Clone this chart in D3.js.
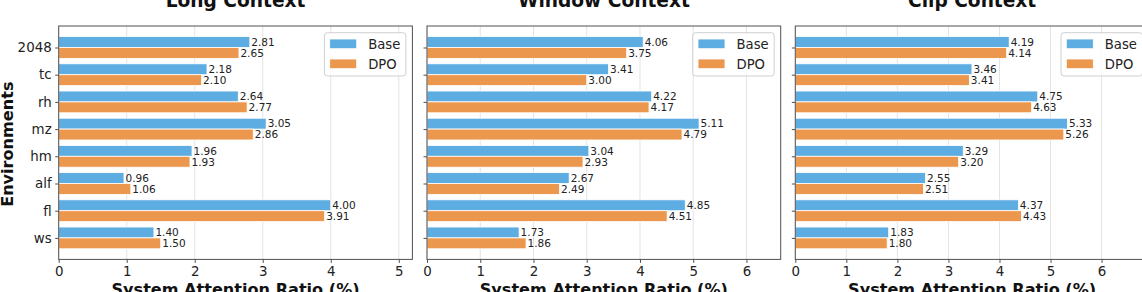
<!DOCTYPE html>
<html>
<head>
<meta charset="utf-8">
<script src="https://cdn.jsdelivr.net/npm/d3@7"></script>
<style>
  html, body { margin: 0; padding: 0; background: #fff; }
  svg { display: block; font-family: "DejaVu Sans", sans-serif; }
</style>
</head>
<body>
<svg id="chart" width="1142" height="292"></svg>
<script>
const categories = ["2048", "tc", "rh", "mz", "hm", "alf", "fl", "ws"];
const seriesNames = ["Base", "DPO"];
const panelTitles = ["Long Context", "Window Context", "Clip Context"];

const longBase   = [2.81, 2.18, 2.64, 3.05, 1.96, 0.96, 4.00, 1.40];
const longDPO    = [2.65, 2.10, 2.77, 2.86, 1.93, 1.06, 3.91, 1.50];
const windowBase = [4.06, 3.41, 4.22, 5.11, 3.04, 2.67, 4.85, 1.73];
const windowDPO  = [3.75, 3.00, 4.17, 4.79, 2.93, 2.49, 4.51, 1.86];
const clipBase   = [4.19, 3.46, 4.75, 5.33, 3.29, 2.55, 4.37, 1.83];
const clipDPO    = [4.14, 3.41, 4.63, 5.26, 3.20, 2.51, 4.43, 1.80];

const xLabel = "System Attention Ratio (%)";
const yLabel = "Environments";

const panels = [
  { title: panelTitles[0], series: [longBase, longDPO] },
  { title: panelTitles[1], series: [windowBase, windowDPO] },
  { title: panelTitles[2], series: [clipBase, clipDPO] }
];

const colors = ["#5DADE2", "#EB984E"];
const svg = d3.select("#chart");

const left0 = 58.7, panelW = 353.7, step = 368.3;
const plotTop = 26, plotBottom = 259.4;
const barH = 0.4;
const spineColor = "#505050";

const y = d3.scaleLinear().domain([-0.79, categories.length - 1 + 0.79]).range([plotTop, plotBottom]);

panels.forEach((p, pi) => {
  const x0 = left0 + pi * step;
  const maxV = d3.max(p.series.flat());
  const x = d3.scaleLinear().domain([0, maxV * 1.3]).range([x0, x0 + panelW]);
  const g = svg.append("g");
  const ticks = d3.range(0, Math.floor(maxV * 1.3) + 1);

  // grid
  g.selectAll("line.grid").data(ticks).enter().append("line")
    .attr("x1", d => x(d)).attr("x2", d => x(d))
    .attr("y1", plotTop).attr("y2", plotBottom)
    .attr("stroke", "#e3e3e3").attr("stroke-width", 1);

  // bars
  p.series.forEach((vals, si) => {
    g.selectAll("rect.s" + si).data(vals).enter().append("rect")
      .attr("x", x(0))
      .attr("y", (d, i) => y(i - barH + si * barH))
      .attr("width", d => x(d) - x(0))
      .attr("height", y(barH) - y(0))
      .attr("fill", colors[si])
      .attr("stroke", "#fff").attr("stroke-width", 0.8);
    g.selectAll("text.v" + si).data(vals).enter().append("text")
      .attr("x", d => x(d) + 1.5)
      .attr("y", (d, i) => y(i - barH / 2 + si * barH))
      .attr("dy", "0.36em")
      .attr("font-size", "10.5px")
      .attr("fill", "#222")
      .text(d => d.toFixed(2));
  });

  // frame
  g.append("rect").attr("x", x0).attr("y", plotTop)
    .attr("width", panelW).attr("height", plotBottom - plotTop)
    .attr("fill", "none").attr("stroke", spineColor).attr("stroke-width", 1);

  // x axis
  const xAxis = d3.axisBottom(x).tickValues(ticks).tickFormat(d3.format("d"))
    .tickSizeOuter(0).tickSizeInner(3.5).tickPadding(3.5);
  const xa = g.append("g").attr("transform", `translate(0,${plotBottom})`).call(xAxis);
  xa.select(".domain").remove();
  xa.selectAll("line").attr("stroke", spineColor);
  xa.selectAll("text").attr("font-size", "13.4px").attr("fill", "#222")
    .attr("font-family", "DejaVu Sans");

  // y axis ticks
  const yAxis = d3.axisLeft(y).tickValues(d3.range(categories.length))
    .tickFormat(i => pi === 0 ? categories[i] : "")
    .tickSizeOuter(0).tickSizeInner(3.5).tickPadding(3.5);
  const ya = g.append("g").attr("transform", `translate(${x0},0)`).call(yAxis);
  ya.select(".domain").remove();
  ya.selectAll("line").attr("stroke", spineColor);
  ya.selectAll("text").attr("font-size", "13.4px").attr("fill", "#222")
    .attr("font-family", "DejaVu Sans");

  // title
  g.append("text").attr("x", x0 + panelW / 2).attr("y", 7)
    .attr("text-anchor", "middle").attr("font-weight", "bold")
    .attr("font-size", "18.6px").attr("fill", "#111").text(p.title);

  // x label
  g.append("text").attr("x", x0 + panelW / 2).attr("y", 294.5)
    .attr("text-anchor", "middle").attr("font-weight", "bold")
    .attr("font-size", "16.1px").attr("fill", "#111").text(xLabel);

  // legend
  const lx = x0 + panelW - 6.5 - 81.5, ly = 32.7;
  const lg = g.append("g");
  lg.append("rect").attr("x", lx).attr("y", ly).attr("width", 81.5).attr("height", 43.3)
    .attr("rx", 3).attr("fill", "#fff").attr("fill-opacity", 0.8)
    .attr("stroke", "#d0d0d0").attr("stroke-width", 1);
  seriesNames.forEach((name, si) => {
    lg.append("rect").attr("x", lx + 5.3).attr("y", 39 + si * 20)
      .attr("width", 27).attr("height", 9.7).attr("fill", colors[si])
      .attr("stroke", "#fff").attr("stroke-width", 0.8);
    lg.append("text").attr("x", lx + 43.8).attr("y", 48.7 + si * 20)
      .attr("font-size", "13.2px").attr("fill", "#222").text(name);
  });
});

// y label
svg.append("text")
  .attr("transform", `translate(13.2,${(plotTop + plotBottom) / 2 + 1.5}) rotate(-90)`)
  .attr("text-anchor", "middle").attr("font-weight", "bold")
  .attr("font-size", "16.1px").attr("fill", "#111").text(yLabel);
</script>
</body>
</html>
